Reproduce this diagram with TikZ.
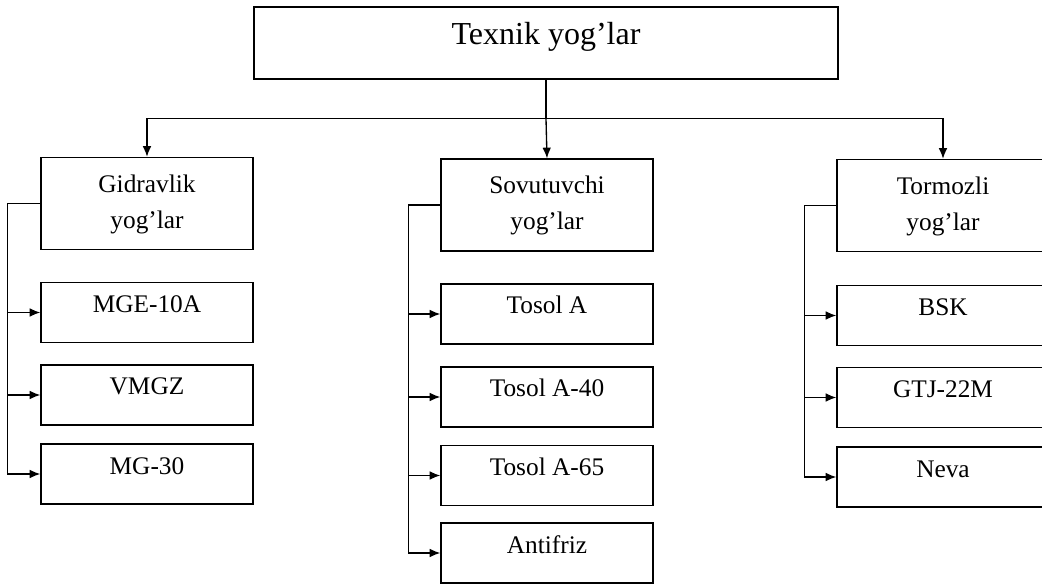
\documentclass[tikz,border=0pt]{standalone}
\usepackage{fontspec}
\setmainfont{Liberation Serif}
\usetikzlibrary{arrows.meta}

\tikzset{
  box/.style={draw, line width=1pt, minimum width=159pt, inner sep=0pt,
    align=center, font=\fontsize{19}{27}\selectfont},
  group/.style={box, minimum height=69pt, text height=53.25pt, text depth=15.75pt},
  item/.style={box, minimum height=45pt, text height=22.5pt, text depth=22.5pt},
  link/.style={line width=1pt, -{Latex[length=8pt,width=6.5pt]}},
}

\begin{document}
\begin{tikzpicture}[x=0.75pt,y=-0.75pt]
\useasboundingbox (0,0) rectangle (1042,584);
\clip (0,0) rectangle (1042,584);

% root
\node[box, minimum width=438pt, minimum height=54pt, text height=28.5pt,
  text depth=25.5pt, font=\fontsize{24}{28}\selectfont] (oils) at (546,43) {Texnik yog'lar};

% three groups
\node[group] (hyd) at (147,203.5) {Gidravlik\\yog'lar};
\node[group] (cool) at (547,205) {Sovutuvchi\\yog'lar};
\node[group] (brake) at (943,205.5) {Tormozli\\yog'lar};

% hydraulic oils
\node[item] (mge) at (147,312.5) {MGE-10A};
\node[item] (vmgz) at (147,395) {VMGZ};
\node[item] (mg) at (147,474) {MG-30};

% coolants
\node[item] (tosa) at (547,314) {Tosol A};
\node[item] (tos40) at (547,397) {Tosol A-40};
\node[item] (tos65) at (547,475.5) {Tosol A-65};
\node[item] (anti) at (547,553) {Antifriz};

% brake fluids
\node[item] (bsk) at (943,315.5) {BSK};
\node[item] (gtj) at (943,397.5) {GTJ-22M};
\node[item] (neva) at (943,477) {Neva};

% root to groups
\draw[line width=1pt] (oils.south) -- ++(0,39) coordinate (hub);
\draw[link] (hub) -| (hyd.north);
\draw[link] (hub) -- (cool.north);
\draw[link] (hub) -| (brake.north);

% groups to items
\foreach \g/\i in {hyd/mge, hyd/vmgz, hyd/mg}
  \draw[link] (\g.west) -- ++(-33,0) |- (\i.west);
\foreach \g/\i in {cool/tosa, cool/tos40, cool/tos65, cool/anti}
  \draw[link] (\g.west) -- ++(-32,0) |- (\i.west);
\foreach \g/\i in {brake/bsk, brake/gtj, brake/neva}
  \draw[link] (\g.west) -- ++(-32,0) |- (\i.west);

\end{tikzpicture}
\end{document}
